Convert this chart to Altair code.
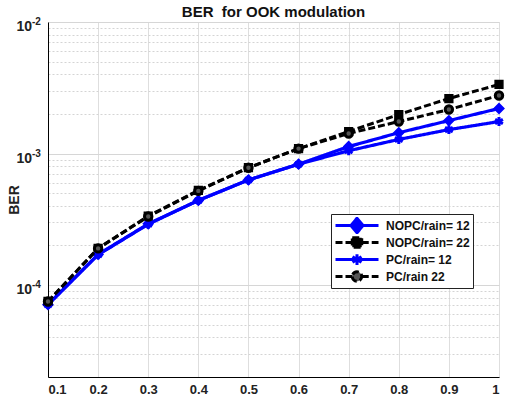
import altair as alt
import pandas as pd

# ---------------- data ----------------
x_vals = [0.1, 0.2, 0.3, 0.4, 0.5, 0.6, 0.7, 0.8, 0.9, 1.0]
series_names = ["NOPC/rain= 12", "NOPC/rain= 22", "PC/rain= 12", "PC/rain 22"]
nopc12 = [7.1e-5, 1.71e-4, 2.92e-4, 4.4e-4, 6.3e-4, 8.3e-4, 1.13e-3, 1.44e-3, 1.78e-3, 2.2e-3]
nopc22 = [7.5e-5, 1.9e-4, 3.35e-4, 5.25e-4, 7.8e-4, 1.09e-3, 1.47e-3, 1.98e-3, 2.62e-3, 3.35e-3]
pc12 = [7.1e-5, 1.7e-4, 2.9e-4, 4.4e-4, 6.3e-4, 8.3e-4, 1.05e-3, 1.28e-3, 1.52e-3, 1.75e-3]
pc22 = [7.5e-5, 1.9e-4, 3.32e-4, 5.2e-4, 7.8e-4, 1.09e-3, 1.42e-3, 1.75e-3, 2.16e-3, 2.76e-3]
y_major = [1e-4, 1e-3, 1e-2]
y_major_exp = ["-4", "-3", "-2"]

rows = []
for name, vals in zip(series_names, [nopc12, nopc22, pc12, pc22]):
    for xv, yv in zip(x_vals, vals):
        rows.append({"x": xv, "ber": yv, "series": name})
df = pd.DataFrame(rows)
lab_df = pd.DataFrame({"v": y_major, "base": ["10"] * 3, "exp": y_major_exp})

FONT = "Liberation Sans"
BLUE = "#0000ff"
BLACK = "#000000"
colors = [BLUE, BLACK, BLUE, BLACK]
dashes = [[1, 0], [7, 3], [1, 0], [7, 3]]

y_minor = [k * 10.0 ** e for e in (-5, -4, -3) for k in range(2, 10)]

x_scale = alt.Scale(domain=[0.1, 1.0], nice=False, zero=False)
y_scale = alt.Scale(type="log", domain=[2e-5, 1e-2], nice=False)

major_test = "datum.value == 0.01 || datum.value == 0.001 || datum.value == 0.0001"

x_axis = alt.Axis(
    values=x_vals, grid=True, gridColor="#dedede", gridWidth=1, ticks=False,
    domainColor="black", labelFont=FONT, labelFontSize=13, labelFontWeight="bold",
    labelColor="#222", labelPadding=6,
    labelExpr="datum.value == 1 ? '1' : format(datum.value, '.1f')", title=None,
)
y_axis = alt.Axis(
    values=y_major + y_minor, grid=True, ticks=False, labels=False,
    gridColor={"condition": {"test": major_test, "value": "#d6d6d6"}, "value": "#d4d4d4"},
    gridDash={"condition": {"test": major_test, "value": []}, "value": [2, 2]},
    domainColor="black", title="BER", titleFont=FONT, titleFontSize=14,
    titleFontWeight="bold", titleColor="#222", titlePadding=27,
)

X = alt.X("x:Q", scale=x_scale, axis=x_axis)
Y = alt.Y("ber:Q", scale=y_scale, axis=y_axis)

base = alt.Chart(df)

marker_specs = {
    "NOPC/rain= 12": dict(shape="diamond", size=95, fill=BLUE, stroke=BLUE, strokeWidth=1.5),
    "NOPC/rain= 22": dict(shape="square", size=60, fill=BLACK, stroke=BLACK, strokeWidth=1.5),
    "PC/rain= 12": dict(shape="M0,-1L0,1M-0.87,-0.5L0.87,0.5M-0.87,0.5L0.87,-0.5",
                        size=80, fill="transparent", stroke=BLUE, strokeWidth=3),
    "PC/rain 22": dict(shape="circle", size=55, fill="#555555", stroke=BLACK, strokeWidth=3),
}

layers = []
for name, col, dash in zip(series_names, colors, dashes):
    sub = base.transform_filter(alt.datum.series == name)
    line = sub.mark_line(color=col, strokeWidth=3.2 if col == BLUE else 3,
                         strokeDash=dash).encode(x=X, y=Y)
    pts = sub.mark_point(opacity=1, **marker_specs[name]).encode(x=X, y=Y)
    layers += [line, pts]

# legend: line segment with its marker, drawn by the legend itself
legend_paths = [
    "M-1,0L-0.28,0M0.28,0L1,0M-0.28,0L0,-0.34L0.28,0L0,0.34Z",
    "M-1,0L-0.22,0M0.22,0L1,0M-0.22,-0.22L0.22,-0.22L0.22,0.22L-0.22,0.22Z",
    "M-1,0L1,0M0,-0.25L0,0.25M-0.21,-0.13L0.21,0.13M-0.21,0.13L0.21,-0.13",
    "M-1,0L-0.22,0M0.22,0L1,0M-0.22,0A0.22,0.22 0 1,0 0.22,0A0.22,0.22 0 1,0 -0.22,0Z",
]
leg = alt.Legend(
    title=None, orient="none", legendX=283, legendY=192, direction="vertical",
    fillColor="white", strokeColor="#222", padding=3, symbolSize=1849,
    symbolStrokeWidth=3, clipHeight=17, rowPadding=0, labelOffset=6,
    labelFont=FONT, labelFontSize=12, labelFontWeight="bold", labelColor="#111",
    symbolOpacity=1,
)
legend_layer = base.transform_filter("false").mark_point(strokeWidth=3, opacity=1).encode(
    x=X, y=Y,
    shape=alt.Shape("series:N", scale=alt.Scale(domain=series_names, range=legend_paths), legend=leg),
    color=alt.Color("series:N", scale=alt.Scale(domain=series_names, range=colors), legend=leg),
    fill=alt.Fill("series:N", scale=alt.Scale(domain=series_names,
                                              range=[BLUE, BLACK, "transparent", "#555555"]), legend=leg),
    strokeDash=alt.StrokeDash("series:N", scale=alt.Scale(domain=series_names, range=dashes), legend=leg),
)

base_txt = alt.Chart(lab_df)
lab10 = base_txt.mark_text(align="right", baseline="middle", font=FONT, fontSize=14,
                           fontWeight="bold", color="#222", dy=5).encode(
    x=alt.value(-16), y=alt.Y("v:Q", scale=y_scale, axis=y_axis), text="base:N")
labexp = base_txt.mark_text(align="left", baseline="middle", font=FONT, fontSize=10,
                            fontWeight="bold", color="#222", dy=0).encode(
    x=alt.value(-16), y=alt.Y("v:Q", scale=y_scale, axis=y_axis), text="exp:N")

chart = alt.layer(*layers, legend_layer, lab10, labexp).properties(
    width=451, height=355,
    title=alt.TitleParams("BER\u00a0 for OOK modulation", font=FONT, fontSize=15,
                          fontWeight="bold", color="#111", anchor="middle", offset=-3),
    autosize=alt.AutoSizeParams(type="none"),
    padding={"left": 48, "top": 22, "right": 6, "bottom": 25},
).configure_view(stroke="black", strokeWidth=1).configure(background="white")

chart.save("out.html", embed_options={"renderer": "svg", "actions": False})
